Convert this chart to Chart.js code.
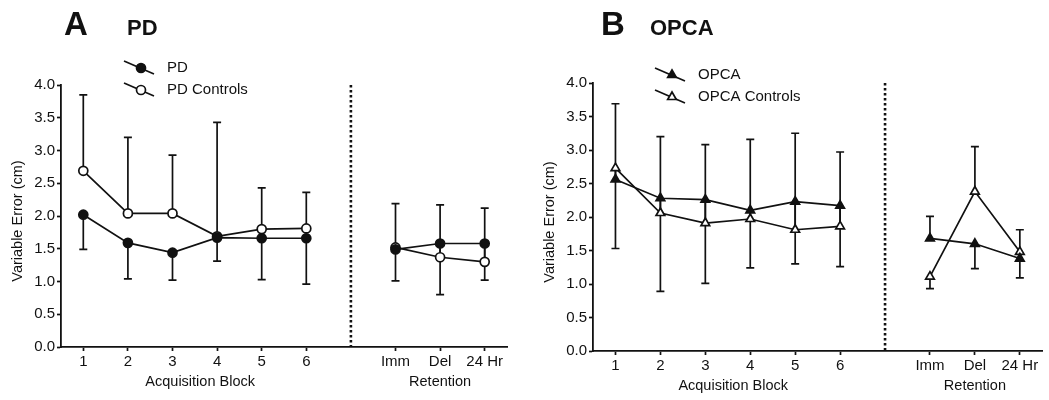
<!DOCTYPE html>
<html>
<head>
<meta charset="utf-8">
<script src="https://cdn.jsdelivr.net/npm/chart.js@4"></script>
<style>
  body { margin: 0; background: #fff; }
  #wrap { position: relative; width: 1049px; height: 400px; }
  canvas { position: absolute; top: 0; }
</style>
</head>
<body>
<div id="wrap">
  <canvas id="chartA" width="524" height="400" style="left:0"></canvas>
  <canvas id="chartB" width="525" height="400" style="left:524px"></canvas>
</div>
<script>
// categories
const blocks = ["1", "2", "3", "4", "5", "6"];
const retention = ["Imm", "Del", "24 Hr"];
const yTickLabels = ["0.0", "0.5", "1.0", "1.5", "2.0", "2.5", "3.0", "3.5", "4.0"];

// panel A: PD
const pdAcq = [2.02, 1.59, 1.44, 1.67, 1.66, 1.66];
const pdRet = [1.49, 1.58, 1.58];
const pdAcqErr = [1.49, 1.04, 1.02, 1.31, 1.03, 0.96];
const pdRetErr = [1.01, 0.80, 1.02];
const pdCtlAcq = [2.69, 2.04, 2.04, 1.69, 1.80, 1.81];
const pdCtlRet = [1.52, 1.37, 1.30];
const pdCtlAcqErr = [3.85, 3.20, 2.93, 3.43, 2.43, 2.36];
const pdCtlRetErr = [2.19, 2.17, 2.12];

// panel B: OPCA
const opcaAcq = [2.56, 2.28, 2.26, 2.10, 2.23, 2.17];
const opcaRet = [1.68, 1.60, 1.38];
const opcaAcqErr = [3.69, 0.89, 1.01, 1.24, 1.30, 1.26];
const opcaRetErr = [2.01, 1.23, 1.09];
const opcaCtlAcq = [2.73, 2.06, 1.91, 1.97, 1.81, 1.86];
const opcaCtlRet = [1.11, 2.38, 1.48];
const opcaCtlAcqErr = [1.53, 3.20, 3.08, 3.16, 3.25, 2.97];
const opcaCtlRetErr = [0.93, 3.05, 1.81];

// x positions: blocks 1-6, divider at 7, retention 8-10
const blockPos = blocks.map((b, i) => i + 1);
const dividerPos = blocks.length + 1;
const retPos = retention.map((r, i) => dividerPos + 1 + i);
const tickLabel = {};
blocks.forEach((b, i) => tickLabel[blockPos[i]] = b);
retention.forEach((r, i) => tickLabel[retPos[i]] = r);

const FONT = "'Liberation Sans', Arial, sans-serif";
const INK = "#111";
const LW = 1.7;

function points(acq, ret) {
    return [
        ...acq.map((y, i) => ({ x: blockPos[i], y: y })),
        { x: dividerPos, y: null },
        ...ret.map((y, i) => ({ x: retPos[i], y: y })),
    ];
}
function ends(acq, ret) {
    return [...acq, null, ...ret];
}

function drawMarker(ctx, style, filled, x, y, r) {
    ctx.save();
    ctx.beginPath();
    if (style === "triangle") {
        ctx.moveTo(x, y - r);
        ctx.lineTo(x + r * 0.866, y + r * 0.5);
        ctx.lineTo(x - r * 0.866, y + r * 0.5);
        ctx.closePath();
    } else {
        ctx.arc(x, y, r, 0, Math.PI * 2);
    }
    ctx.fillStyle = filled ? INK : "#fff";
    ctx.fill();
    ctx.lineWidth = LW;
    ctx.strokeStyle = INK;
    ctx.stroke();
    ctx.restore();
}

const errorBars = {
    id: "errorBars",
    beforeDatasetsDraw(chart) {
        const ctx = chart.ctx;
        const area = chart.chartArea;
        const xs = chart.scales.x;
        const ys = chart.scales.y;
        // dotted divider between acquisition and retention
        ctx.save();
        ctx.strokeStyle = INK;
        ctx.lineWidth = 2.6;
        ctx.setLineDash([2.5, 2.5]);
        const dx = xs.getPixelForValue(dividerPos);
        ctx.beginPath();
        ctx.moveTo(dx, area.top);
        ctx.lineTo(dx, area.bottom);
        ctx.stroke();
        ctx.restore();

        ctx.save();
        ctx.strokeStyle = INK;
        ctx.lineWidth = LW;
        chart.data.datasets.forEach((ds, i) => {
            const meta = chart.getDatasetMeta(i);
            meta.data.forEach((pt, j) => {
                const end = ds.errEnd[j];
                if (end == null || ds.data[j].y == null) return;
                const ye = ys.getPixelForValue(end);
                ctx.beginPath();
                ctx.moveTo(pt.x, pt.y);
                ctx.lineTo(pt.x, ye);
                ctx.moveTo(pt.x - 4, ye);
                ctx.lineTo(pt.x + 4, ye);
                ctx.stroke();
            });
        });
        ctx.restore();
    },
};

const decor = {
    id: "decor",
    afterDraw(chart, args, opts) {
        const ctx = chart.ctx;
        const area = chart.chartArea;
        const xs = chart.scales.x;
        ctx.save();
        ctx.fillStyle = INK;
        ctx.textBaseline = "alphabetic";
        ctx.textAlign = "left";
        ctx.font = "bold 33px " + FONT;
        ctx.fillText(opts.letter, opts.letterX, 35);
        ctx.font = "bold 22px " + FONT;
        ctx.fillText(opts.name, opts.nameX, 35);

        // legend: slanted line with marker
        chart.data.datasets.forEach((ds, i) => {
            const cy = opts.legendY + i * 22;
            const lx = opts.legendX;
            ctx.save();
            ctx.strokeStyle = INK;
            ctx.lineWidth = LW;
            ctx.beginPath();
            ctx.moveTo(lx, cy - 7);
            ctx.lineTo(lx + 30, cy + 6);
            ctx.stroke();
            ctx.restore();
            drawMarker(ctx, ds.pointStyle, ds.filled, lx + 17, cy, ds.pointRadius);
            ctx.font = "15px " + FONT;
            ctx.textBaseline = "middle";
            ctx.fillText(ds.label, lx + 43, cy);
        });

        // axis titles
        ctx.font = "14.5px " + FONT;
        ctx.textAlign = "center";
        ctx.textBaseline = "middle";
        const ty = area.bottom + 35;
        ctx.fillText("Acquisition Block", xs.getPixelForValue(3.62), ty);
        ctx.fillText("Retention", xs.getPixelForValue(retPos[1]), ty);
        ctx.translate(area.left - 43, (area.top + area.bottom) / 2 + 5);
        ctx.rotate(-Math.PI / 2);
        ctx.fillText("Variable Error (cm)", 0, 0);
        ctx.restore();
    },
};

function makePanel(id, cfg) {
    const datasets = cfg.series.map(s => ({
        label: s.label,
        data: points(s.acq, s.ret),
        errEnd: ends(s.acqErr, s.retErr),
        filled: s.filled,
        borderColor: INK,
        borderWidth: LW,
        backgroundColor: s.filled ? INK : "#fff",
        pointBackgroundColor: s.filled ? INK : "#fff",
        pointBorderColor: INK,
        pointBorderWidth: LW,
        pointStyle: s.style,
        pointRadius: s.style === "triangle" ? 5 : 4.5,
        tension: 0,
        spanGaps: false,
    }));
    return new Chart(document.getElementById(id), {
        type: "line",
        data: { datasets: datasets },
        options: {
            responsive: false,
            animation: false,
            layout: { padding: { top: cfg.top, right: cfg.right, left: 0, bottom: 0 } },
            plugins: {
                legend: { display: false },
                tooltip: { enabled: false },
                decor: cfg.decor,
            },
            scales: {
                x: {
                    type: "linear",
                    min: 0.5,
                    max: retPos[retPos.length - 1] + 0.5,
                    afterBuildTicks: scale => {
                        scale.ticks = [...blockPos, ...retPos].map(v => ({ value: v }));
                    },
                    afterFit: scale => { scale.height = cfg.bottomH; },
                    ticks: {
                        callback: v => tickLabel[v] || "",
                        color: INK,
                        font: { family: FONT, size: 15 },
                        padding: 2,
                        maxRotation: 0,
                        autoSkip: false,
                    },
                    grid: { drawOnChartArea: false, tickLength: 4, color: INK, tickWidth: LW },
                    border: { color: INK, width: 1.8 },
                },
                y: {
                    min: 0,
                    max: 4,
                    afterFit: scale => { scale.width = cfg.leftW; },
                    ticks: {
                        stepSize: 0.5,
                        callback: (v, i) => yTickLabels[i],
                        color: INK,
                        font: { family: FONT, size: 15 },
                        padding: 2,
                    },
                    grid: { drawOnChartArea: false, tickLength: 4, color: INK, tickWidth: LW },
                    border: { color: INK, width: 1.8 },
                },
            },
        },
        plugins: [errorBars, decor],
    });
}

makePanel("chartA", {
    top: 85, right: 17, leftW: 61, bottomH: 53,
    decor: { letter: "A", letterX: 64, name: "PD", nameX: 127, legendX: 124, legendY: 68 },
    series: [
        { label: "PD", acq: pdAcq, ret: pdRet, acqErr: pdAcqErr, retErr: pdRetErr, style: "circle", filled: true },
        { label: "PD Controls", acq: pdCtlAcq, ret: pdCtlRet, acqErr: pdCtlAcqErr, retErr: pdCtlRetErr, style: "circle", filled: false },
    ],
});

makePanel("chartB", {
    top: 83, right: 4, leftW: 69, bottomH: 49,
    decor: { letter: "B", letterX: 77, name: "OPCA", nameX: 126, legendX: 131, legendY: 75 },
    series: [
        { label: "OPCA", acq: opcaAcq, ret: opcaRet, acqErr: opcaAcqErr, retErr: opcaRetErr, style: "triangle", filled: true },
        { label: "OPCA Controls", acq: opcaCtlAcq, ret: opcaCtlRet, acqErr: opcaCtlAcqErr, retErr: opcaCtlRetErr, style: "triangle", filled: false },
    ],
});
</script>
</body>
</html>
